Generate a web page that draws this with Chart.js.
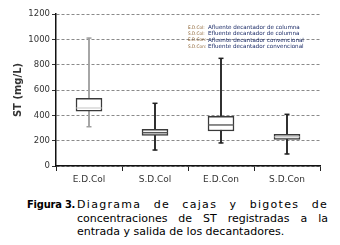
<!DOCTYPE html>
<html><head><meta charset="utf-8">
<script src="https://cdn.jsdelivr.net/npm/chart.js@4/dist/chart.umd.min.js"></script>
<style>
html,body{margin:0;padding:0;background:#fff;width:340px;height:245px;overflow:hidden}
#wrap{position:absolute;left:0;top:0;width:340px;height:192px}
.cap{position:absolute;font-family:"DejaVu Sans",Verdana,sans-serif;font-size:11px;line-height:13.6px;color:#000;white-space:nowrap}
#fig{left:27px;top:198px;font-family:"DejaVu Sans Condensed","DejaVu Sans",sans-serif;font-weight:bold;font-size:11px;letter-spacing:-0.2px}
.ln{left:77px;width:251px;text-align:justify;text-align-last:justify}
#l1{top:198px;letter-spacing:1.3px}
#l2{top:211.5px}
#l3{top:225px;text-align-last:left}
</style></head>
<body>
<div id="wrap"><canvas id="c" width="340" height="192"></canvas></div>
<div class="cap" id="fig">Figura 3.</div>
<div class="cap ln" id="l1">Diagrama de cajas y bigotes de</div>
<div class="cap ln" id="l2">concentraciones de ST registradas a la</div>
<div class="cap ln" id="l3">entrada y salida de los decantadores.</div>
<script>
const categories = ['E.D.Col','S.D.Col','E.D.Con','S.D.Con'];
const minValues = [310, 126, 182, 95];
const q1Values = [432, 242, 276, 210];
const medianValues = [458, 263, 324, 231];
const q3Values = [534, 290, 392, 250];
const maxValues = [1010, 495, 850, 408];
const whiskerColors = ['#a0a0a0','#222','#222','#222'];
const medianColors = ['#d8d8d8','#555','#666','#c8c8c8'];
const legendLabels = ['E.D.Col:','S.D.Col:','E.D.Con:','S.D.Con:'];
const legendTexts = ['Afluente decantador de columna','Efluente decantador de columna','Afluente decantador convencional','Efluente decantador convencional'];
const yMin = 0, yMax = 1200, yStep = 200;

const legendPlugin = {
  id:'notes',
  afterDraw(chart){
    const ctx = chart.ctx;
    ctx.save();
    ctx.textBaseline = 'middle';
    for (let i=0;i<legendLabels.length;i++){
      const y = 27.5 + i*6.3;
      ctx.font = '4.7px "DejaVu Sans Condensed", sans-serif';
      ctx.fillStyle = '#8a6030';
      ctx.fillText(legendLabels[i], 188, y);
      ctx.font = '5.6px "DejaVu Sans", sans-serif';
      ctx.fillStyle = '#1a2a66';
      ctx.fillText(legendTexts[i], 208, y);
    }
    ctx.restore();
  }
};

new Chart(document.getElementById('c'), {
  data: {
    labels: categories,
    datasets: [
      { type:'line', label:'median', data: medianValues, showLine:false, pointStyle:'line', pointRadius:12.5, pointHoverRadius:12.5, pointBorderWidth:1.5, pointBorderColor: medianColors, order:0 },
      { type:'line', label:'capMax', data: maxValues, showLine:false, pointStyle:'line', pointRadius:2.5, pointHoverRadius:2.5, pointBorderWidth:1.5, pointBorderColor: whiskerColors, order:1 },
      { type:'line', label:'capMin', data: minValues, showLine:false, pointStyle:'line', pointRadius:2.5, pointHoverRadius:2.5, pointBorderWidth:1.5, pointBorderColor: whiskerColors, order:1 },
      { type:'bar', label:'box', data: categories.map((c,i)=>[q1Values[i], q3Values[i]]), backgroundColor:'#fff', borderColor:'#3a3a3a', borderWidth:1.5, borderSkipped:false, barThickness:26, grouped:false, order:2 },
      { type:'bar', label:'whisker', data: categories.map((c,i)=>[minValues[i], maxValues[i]]), backgroundColor: whiskerColors, borderWidth:0, barThickness:1.2, grouped:false, order:3 }
    ]
  },
  options: {
    responsive:false, animation:false,
    layout:{ padding:{ left:0, right:20, top:14, bottom:0 } },
    plugins:{ legend:{display:false}, tooltip:{enabled:false} },
    scales:{
      x:{
        offset:true,
        grid:{ display:true, drawOnChartArea:false, offset:true, tickLength:5, tickColor:'#222', color:'#222' },
        border:{ color:'#111', width:1.5 },
        ticks:{ color:'#333', font:{ family:'"DejaVu Sans", sans-serif', size:9 }, padding:3 },
        afterFit(s){ s.height = 26; }
      },
      y:{
        min:yMin, max:yMax,
        ticks:{ stepSize:yStep, color:'#333', font:{ family:'"DejaVu Sans", sans-serif', size:8.5 }, padding:2, callback:(v)=>String(v) },
        grid:{ color:'#8a8a8a', tickLength:4, tickColor:'#333', tickBorderDash:[0,0] },
        border:{ color:'#111', width:1.5, dash:[3,2] },
        title:{ display:true, text:'ST (mg/L)', color:'#333', font:{ family:'"DejaVu Sans", sans-serif', size:10, weight:'bold' }, padding:{top:12, bottom:0} },
        afterFit(s){ s.width = 56; }
      }
    }
  },
  plugins:[legendPlugin]
});
</script>
</body></html>
